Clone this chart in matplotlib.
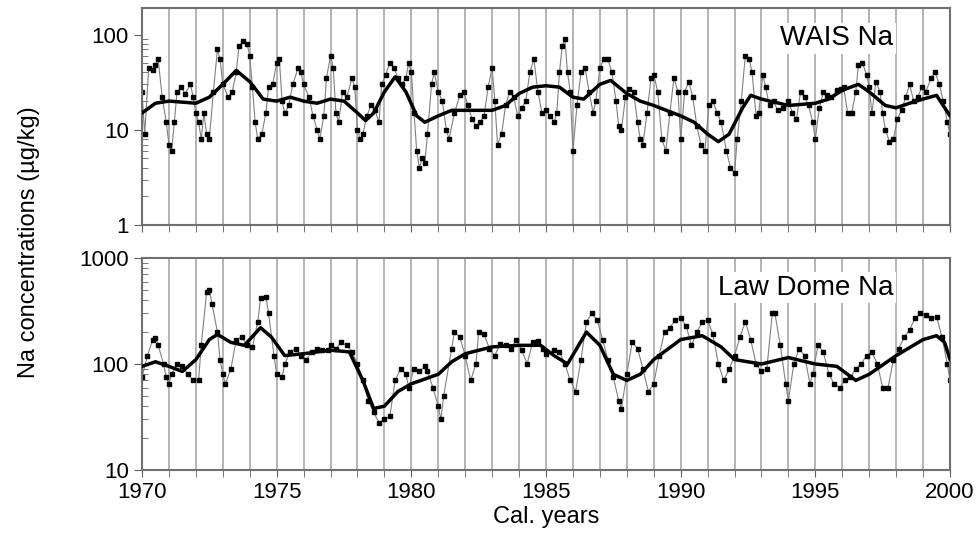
import numpy as np
import matplotlib.pyplot as plt
from matplotlib.ticker import FixedLocator, MultipleLocator, LogLocator, NullFormatter

plt.rcParams['font.family'] = ['Liberation Sans', 'DejaVu Sans']

# WAIS Na record: (year, ug/kg)
wais_pts = [
    (1970.0, 25), (1970.1, 9), (1970.25, 45), (1970.4, 42), (1970.5, 48), (1970.6, 55), (1970.75, 22),
    (1970.9, 12), (1971.0, 7), (1971.1, 6), (1971.2, 12), (1971.3, 25), (1971.45, 28), (1971.6, 24),
    (1971.8, 30), (1971.9, 22), (1972.0, 15), (1972.1, 12), (1972.2, 8), (1972.3, 15), (1972.4, 9),
    (1972.5, 8), (1972.65, 25), (1972.8, 70), (1972.9, 55), (1973.0, 30), (1973.2, 22), (1973.35, 25),
    (1973.5, 40), (1973.6, 75), (1973.75, 85), (1973.9, 80), (1974.0, 60), (1974.1, 28), (1974.2, 12),
    (1974.3, 8), (1974.45, 9), (1974.6, 15), (1974.7, 28), (1974.85, 30), (1975.0, 50), (1975.1, 55),
    (1975.2, 20), (1975.3, 15), (1975.45, 18), (1975.6, 30), (1975.8, 45), (1975.9, 40), (1976.0, 30),
    (1976.2, 22), (1976.35, 14), (1976.5, 10), (1976.6, 8), (1976.75, 14), (1976.85, 35), (1977.0, 60),
    (1977.1, 45), (1977.2, 15), (1977.3, 12), (1977.45, 25), (1977.6, 22), (1977.8, 35), (1977.9, 28),
    (1978.0, 10), (1978.1, 8), (1978.2, 9), (1978.35, 14), (1978.5, 18), (1978.65, 16), (1978.8, 12),
    (1978.9, 30), (1979.05, 38), (1979.2, 50), (1979.35, 45), (1979.5, 35), (1979.65, 30), (1979.8, 35),
    (1979.9, 50), (1980.0, 40), (1980.1, 15), (1980.2, 6), (1980.3, 4), (1980.4, 5), (1980.5, 4.5),
    (1980.6, 9), (1980.75, 30), (1980.85, 40), (1981.0, 25), (1981.15, 20), (1981.3, 10), (1981.4, 8),
    (1981.6, 15), (1981.8, 23), (1981.95, 25), (1982.1, 18), (1982.25, 13), (1982.4, 11), (1982.55, 12),
    (1982.7, 14), (1982.85, 28), (1983.0, 45), (1983.1, 20), (1983.2, 7), (1983.35, 9), (1983.5, 18),
    (1983.65, 25), (1983.8, 22), (1983.95, 14), (1984.1, 17), (1984.25, 20), (1984.4, 40), (1984.55, 55),
    (1984.7, 25), (1984.85, 15), (1985.0, 16), (1985.15, 14), (1985.3, 12), (1985.4, 15), (1985.5, 40),
    (1985.6, 75), (1985.7, 90), (1985.8, 40), (1985.9, 25), (1986.0, 6), (1986.15, 18), (1986.3, 40),
    (1986.45, 45), (1986.6, 25), (1986.75, 15), (1986.85, 20), (1987.0, 45), (1987.15, 55), (1987.3, 55),
    (1987.45, 40), (1987.6, 20), (1987.7, 11), (1987.8, 10), (1987.95, 22), (1988.1, 27), (1988.25, 25),
    (1988.4, 12), (1988.5, 8), (1988.6, 7), (1988.75, 15), (1988.9, 35), (1989.0, 38), (1989.15, 25),
    (1989.3, 8), (1989.45, 6), (1989.6, 15), (1989.75, 35), (1989.9, 25), (1990.0, 8), (1990.15, 25),
    (1990.3, 32), (1990.45, 22), (1990.6, 11), (1990.75, 7), (1990.9, 6), (1991.05, 18), (1991.2, 20),
    (1991.35, 15), (1991.5, 12), (1991.7, 6), (1991.85, 4), (1992.0, 3.5), (1992.1, 8), (1992.25, 20),
    (1992.4, 60), (1992.55, 55), (1992.65, 40), (1992.8, 14), (1992.9, 15), (1993.05, 38), (1993.15, 28),
    (1993.3, 18), (1993.45, 20), (1993.6, 16), (1993.8, 17), (1994.0, 20), (1994.15, 15), (1994.3, 13),
    (1994.45, 25), (1994.6, 22), (1994.75, 18), (1994.9, 12), (1995.0, 8), (1995.15, 17), (1995.3, 25),
    (1995.45, 23), (1995.6, 22), (1995.8, 26), (1995.95, 27), (1996.05, 28), (1996.2, 15), (1996.35, 15),
    (1996.5, 25), (1996.6, 48), (1996.75, 50), (1996.9, 38), (1997.0, 28), (1997.1, 15), (1997.25, 32),
    (1997.4, 25), (1997.5, 15), (1997.6, 10), (1997.75, 7.5), (1997.9, 8), (1998.05, 13), (1998.2, 16),
    (1998.35, 22), (1998.5, 30), (1998.65, 20), (1998.8, 22), (1998.95, 28), (1999.1, 25), (1999.3, 35),
    (1999.45, 40), (1999.6, 30), (1999.75, 20), (1999.9, 12), (2000.0, 9),
]
wais_smooth = [
    (1970, 15), (1970.5, 19), (1971, 20), (1972, 19), (1972.5, 22), (1973, 30), (1973.5, 42), (1974, 32),
    (1974.5, 21), (1975, 20), (1975.5, 22), (1976, 20), (1976.5, 19), (1977, 21), (1977.5, 20), (1978, 15),
    (1978.3, 12.5), (1978.6, 15), (1979, 25), (1979.4, 36), (1979.8, 25), (1980.2, 14), (1980.5, 12),
    (1981, 14), (1981.5, 16), (1982, 16), (1983, 16), (1983.5, 18), (1984, 24), (1984.5, 28), (1985, 29),
    (1985.5, 28), (1986, 22), (1986.4, 21), (1987, 30), (1987.4, 33), (1988, 24), (1988.5, 20), (1989, 18),
    (1990, 14), (1990.5, 12), (1991, 9), (1991.4, 7.5), (1991.8, 9), (1992.3, 17), (1992.6, 23), (1993, 21),
    (1994, 18), (1995, 19), (1995.5, 21), (1996, 26), (1996.6, 30), (1997, 25), (1997.6, 18), (1998, 17),
    (1998.5, 19), (1999, 21), (1999.5, 23), (2000, 14),
]

# Law Dome Na record: (year, ug/kg)
law_pts = [
    (1970.0, 75), (1970.2, 120), (1970.4, 170), (1970.5, 175), (1970.6, 150), (1970.8, 100), (1970.9, 75),
    (1971.0, 65), (1971.1, 80), (1971.3, 100), (1971.5, 95), (1971.7, 80), (1971.9, 70), (1972.1, 70),
    (1972.2, 150), (1972.4, 480), (1972.5, 500), (1972.6, 370), (1972.8, 200), (1972.9, 110), (1973.0, 80),
    (1973.1, 65), (1973.3, 90), (1973.5, 170), (1973.7, 180), (1973.9, 150), (1974.1, 145), (1974.3, 250),
    (1974.4, 420), (1974.6, 430), (1974.7, 300), (1974.9, 120), (1975.0, 80), (1975.2, 75), (1975.3, 100),
    (1975.5, 130), (1975.7, 140), (1975.9, 120), (1976.1, 110), (1976.3, 130), (1976.5, 140), (1976.7, 135),
    (1976.9, 135), (1977.0, 150), (1977.2, 140), (1977.4, 160), (1977.6, 150), (1977.8, 130), (1978.0, 100),
    (1978.2, 70), (1978.4, 45), (1978.6, 35), (1978.8, 28), (1979.0, 30), (1979.2, 32), (1979.4, 70),
    (1979.6, 90), (1979.8, 80), (1979.9, 60), (1980.1, 90), (1980.3, 85), (1980.5, 95), (1980.6, 85),
    (1980.8, 60), (1981.0, 40), (1981.1, 30), (1981.2, 50), (1981.5, 140), (1981.6, 200), (1981.8, 180),
    (1982.0, 120), (1982.2, 70), (1982.4, 100), (1982.5, 200), (1982.7, 190), (1982.9, 140), (1983.1, 120),
    (1983.3, 155), (1983.5, 150), (1983.7, 140), (1983.9, 170), (1984.1, 135), (1984.3, 100), (1984.5, 160),
    (1984.7, 165), (1984.9, 140), (1985.0, 125), (1985.3, 135), (1985.5, 130), (1985.7, 100), (1985.9, 70),
    (1986.1, 55), (1986.3, 110), (1986.5, 250), (1986.7, 300), (1986.9, 260), (1987.1, 170), (1987.3, 110),
    (1987.5, 75), (1987.7, 45), (1987.8, 38), (1988.0, 80), (1988.2, 160), (1988.4, 140), (1988.6, 90),
    (1988.8, 55), (1989.0, 65), (1989.2, 120), (1989.4, 200), (1989.6, 220), (1989.8, 260), (1990.0, 270),
    (1990.2, 230), (1990.4, 150), (1990.6, 200), (1990.8, 250), (1991.0, 260), (1991.2, 190), (1991.4, 100),
    (1991.6, 70), (1991.8, 90), (1992.0, 120), (1992.2, 180), (1992.4, 250), (1992.6, 170), (1992.8, 100),
    (1993.0, 85), (1993.2, 90), (1993.4, 300), (1993.5, 300), (1993.7, 150), (1993.9, 65), (1994.0, 45),
    (1994.2, 100), (1994.4, 140), (1994.6, 120), (1994.8, 65), (1994.9, 80), (1995.1, 150), (1995.3, 130),
    (1995.5, 80), (1995.7, 65), (1995.9, 60), (1996.1, 70), (1996.3, 75), (1996.5, 90), (1996.7, 100),
    (1996.9, 120), (1997.1, 130), (1997.3, 100), (1997.5, 60), (1997.7, 60), (1997.9, 110), (1998.1, 140),
    (1998.3, 180), (1998.5, 210), (1998.7, 270), (1998.9, 300), (1999.1, 290), (1999.3, 270), (1999.5, 280),
    (1999.7, 180), (1999.9, 100), (2000.0, 70),
]
law_smooth = [
    (1970, 95), (1970.5, 105), (1971, 95), (1971.5, 85), (1972, 110), (1972.5, 170), (1972.8, 190),
    (1973.3, 160), (1973.8, 150), (1974.4, 220), (1974.8, 180), (1975.3, 120), (1976, 125), (1977, 135),
    (1977.7, 130), (1978.2, 70), (1978.6, 38), (1979, 40), (1979.5, 55), (1980, 65), (1981, 80),
    (1981.5, 105), (1982, 125), (1983, 145), (1984, 150), (1984.8, 150), (1985.3, 120), (1985.8, 100),
    (1986.5, 200), (1987, 150), (1987.5, 80), (1988, 70), (1988.5, 80), (1989, 110), (1990, 170),
    (1990.8, 185), (1991.5, 145), (1992, 110), (1993, 100), (1994, 115), (1995, 100), (1995.8, 95),
    (1996.5, 70), (1997, 80), (1998, 120), (1999, 170), (1999.5, 185), (1999.8, 160), (2000, 110),
]

years = list(range(1970, 2001))
x_major = [1970, 1975, 1980, 1985, 1990, 1995, 2000]

fig = plt.figure(figsize=(9.77, 5.57), dpi=100)
ax1 = fig.add_axes([142 / 977, 1 - 225 / 557, 808 / 977, 217 / 557])
ax2 = fig.add_axes([142 / 977, 1 - 470 / 557, 808 / 977, 212 / 557])

panels = [
    (ax1, wais_pts, wais_smooth, (1, 190), [1, 10, 100], 'WAIS Na', 0.86),
    (ax2, law_pts, law_smooth, (10, 1000), [10, 100, 1000], 'Law Dome Na', 0.86),
]
for ax, pts, smooth, ylim, yt, label, ty in panels:
    x, y = zip(*pts)
    sx, sy = zip(*smooth)
    ax.set_yscale('log')
    for yr in years:
        ax.axvline(yr, color='#a8a8a8', lw=1.2, zorder=0)
    ax.plot(x, y, color='#808080', lw=0.8, marker='s', ms=3.2, mfc='black', mec='black', zorder=2)
    ax.plot(sx, sy, color='black', lw=2.5, zorder=3, solid_capstyle='round', solid_joinstyle='round')
    ax.set_xlim(1970, 2000)
    ax.set_ylim(*ylim)
    ax.yaxis.set_major_locator(FixedLocator(yt))
    ax.yaxis.set_minor_locator(LogLocator(subs=np.arange(2, 10)))
    ax.yaxis.set_minor_formatter(NullFormatter())
    ax.set_yticklabels([str(v) for v in yt])
    ax.set_xticks(x_major)
    ax.xaxis.set_minor_locator(MultipleLocator(1))
    ax.tick_params(axis='y', which='major', labelsize=16, length=6, direction='out', color='#606060')
    ax.tick_params(axis='y', which='minor', length=4, direction='in', color='#606060')
    ax.tick_params(axis='x', which='both', labelsize=16, length=5, direction='out', color='#606060')
    for s in ax.spines.values():
        s.set_color('#707070')
        s.set_linewidth(1.5)
    ax.text(0.93, ty, label, transform=ax.transAxes, fontsize=20, ha='right', va='center',
            bbox=dict(facecolor='white', edgecolor='none', pad=2), zorder=5)

ax1.set_xticklabels([])
ax2.set_xticklabels([str(v) for v in x_major])
ax2.set_xlabel('Cal. years', fontsize=17, labelpad=2)
fig.text(0.018, 0.565, 'Na concentrations (µg/kg)', rotation=90, fontsize=17, va='center', ha='left')

fig.savefig('out.png', dpi=100)
